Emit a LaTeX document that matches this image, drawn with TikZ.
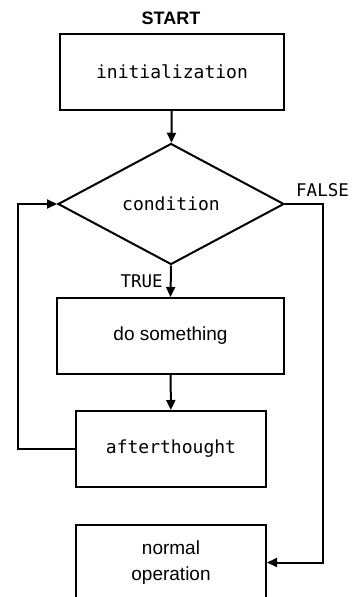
\documentclass[tikz,border=0pt]{standalone}
\usepackage{fontspec}
\setmainfont{Liberation Sans}
\newfontfamily\monof{DejaVu Sans Mono}
\usetikzlibrary{shapes.geometric,arrows.meta}
\tikzset{
  flowline/.style={line width=2pt},
  arr/.style={flowline,-{Triangle[length=10pt,width=9pt]}},
  procbox/.style={draw,line width=2pt,rectangle,inner sep=0pt,
    minimum height=76pt,align=center,font=\fontsize{19}{26}\selectfont},
  codetext/.style={font=\monof\fontsize{18}{22}\selectfont},
  decision/.style={draw,line width=2pt,diamond,inner sep=0pt,aspect=1.87,
    minimum width=226pt,minimum height=121pt,font=\monof\fontsize{18}{22}\selectfont},
  edgelabel/.style={font=\monof\fontsize{17.5}{21}\selectfont,inner sep=0pt}
}
\begin{document}
\begin{tikzpicture}[x=1pt,y=-1pt]
  \clip (0,0) rectangle (352,597);
  \useasboundingbox (0,0) rectangle (352,597);

  \node[font=\bfseries\fontsize{18}{22}\selectfont] (start) at (171,18) {START};
  \node[procbox,codetext,minimum width=224pt] (init) at (172,71.5) {initialization};
  \node[decision] (cond) at (171,204) {condition};
  \node[procbox,minimum width=227pt] (body) at (170.5,336) {do something};
  \node[procbox,codetext,minimum width=190pt] (after) at (171,449) {afterthought};
  \node[procbox,minimum width=190pt,minimum height=76pt] (normal) at (171,562.5) {normal\\operation};

  \coordinate (loopL) at (18,0);
  \coordinate (falseR) at (323,0);

  \draw[arr] (init) -- (cond);
  \draw[arr] (cond.south) -- (body.north)
    node[edgelabel,pos=0.5,anchor=east,xshift=-7pt] {TRUE};
  \draw[arr] (body) -- (after);
  \draw[arr] (after.west) -- (after.west -| loopL) |- (cond.west);
  \draw[arr] (cond.east) -- (cond.east -| falseR) |- (normal.east);
  \node[edgelabel,anchor=west] (falselbl) at ([xshift=11pt,yshift=14pt]cond.east) {FALSE};
\end{tikzpicture}
\end{document}
